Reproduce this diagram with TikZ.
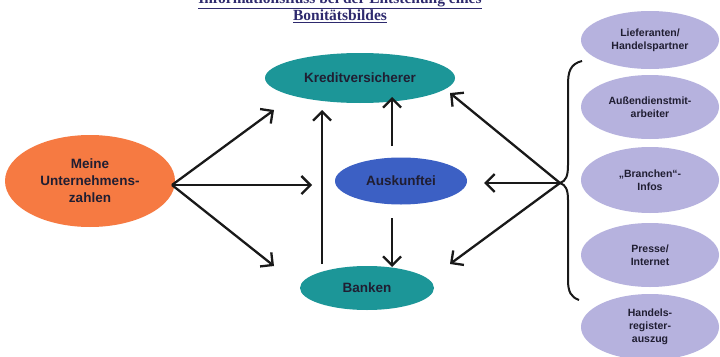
\documentclass[tikz,border=0pt]{standalone}
\usepackage{fontspec}
\setmainfont{Liberation Serif}
\setsansfont{Liberation Sans}
\usetikzlibrary{arrows.meta,shapes.geometric}
\definecolor{teal1}{RGB}{28,150,152}
\definecolor{blue1}{RGB}{60,96,196}
\definecolor{orange1}{RGB}{246,122,66}
\definecolor{lav}{RGB}{182,178,222}
\definecolor{txt}{RGB}{32,30,50}
\definecolor{navy}{RGB}{46,42,110}
\tikzset{
  ell/.style={ellipse, inner sep=0pt, text=txt, font=\sffamily\bfseries, align=center},
  flow/.style={line width=2.3pt, draw=black!90, -{Straight Barb[length=9pt,width=18pt,line width=2.3pt]}},
  bracel/.style={line width=2pt, draw=black!90}
}
\begin{document}
\begin{tikzpicture}[x=1pt,y=-1pt]
\useasboundingbox (0,0) rectangle (720,356);
\fill[white] (0,0) rectangle (720,356);
% title
\node[font=\rmfamily\bfseries\fontsize{15.5}{17}\selectfont, text=navy, align=center, anchor=south] (title) at (340,26)
  {\underline{Informationsfluss bei der Entstehung eines}\\\underline{Bonitätsbildes}};
% central nodes
\node[ell, fill=teal1, minimum width=190pt, minimum height=50pt, font=\sffamily\bfseries\fontsize{13.5}{15}\selectfont] (kv) at (360,78) {Kreditversicherer};
\node[ell, fill=blue1, minimum width=132pt, minimum height=47pt, font=\sffamily\bfseries\fontsize{13.5}{15}\selectfont] (ak) at (401,181) {Auskunftei};
\node[ell, fill=teal1, minimum width=134pt, minimum height=44pt, font=\sffamily\bfseries\fontsize{13.5}{15}\selectfont] (bk) at (367,288) {Banken};
\node[ell, fill=orange1, minimum width=170pt, minimum height=92pt, font=\sffamily\bfseries\fontsize{13.5}{17}\selectfont] (mu) at (90,181) {Meine\\Unternehmens-\\zahlen};
% right nodes
\tikzset{rn/.style={ell, fill=lav, minimum width=138pt, minimum height=58pt, font=\sffamily\bfseries\fontsize{10.5}{13}\selectfont}}
\node[rn] (lf) at (650,40) {Lieferanten/\\Handelspartner};
\node[rn, minimum height=64pt] (ad) at (650,107) {Außendienstmit-\\arbeiter};
\node[rn, minimum height=66pt] (br) at (650,180) {„Branchen“-\\Infos};
\node[rn, minimum height=64pt] (pr) at (650,255) {Presse/\\Internet};
\node[rn, minimum height=66pt] (hr) at (650,327) {Handels-\\register-\\auszug};
% brace
\coordinate (tip) at (560,183);
\draw[bracel] (582,61) .. controls (570,64) and (568,72) .. (568,85) -- (568,165) .. controls (568,176) and (566,181) .. (tip)
  .. controls (566,185) and (568,190) .. (568,200) -- (568,280) .. controls (568,292) and (571,297) .. (579,300);
% arrow end points
\coordinate (mo) at (172,185);
\coordinate (e1) at (274,110);
\coordinate (e2) at (312,185);
\coordinate (e3) at (274,266);
\coordinate (r1) at (450,93);
\coordinate (r2) at (484,183);
\coordinate (r3) at (450,264);
\coordinate (bt) at (322,264);
\coordinate (kb) at (322,110);
\coordinate (at) at (392,146);
\coordinate (kt) at (392,97);
\coordinate (ab) at (392,218);
\coordinate (bb) at (392,267);
\draw[flow] (mo) -- (e1);
\draw[flow] (mo) -- (e2);
\draw[flow] (mo) -- (e3);
\draw[flow] (tip) -- (r1);
\draw[flow] (tip) -- (r2);
\draw[flow] (tip) -- (r3);
\draw[flow] (bt) -- (kb);
\draw[flow] (at) -- (kt);
\draw[flow] (ab) -- (bb);
\end{tikzpicture}
\end{document}
